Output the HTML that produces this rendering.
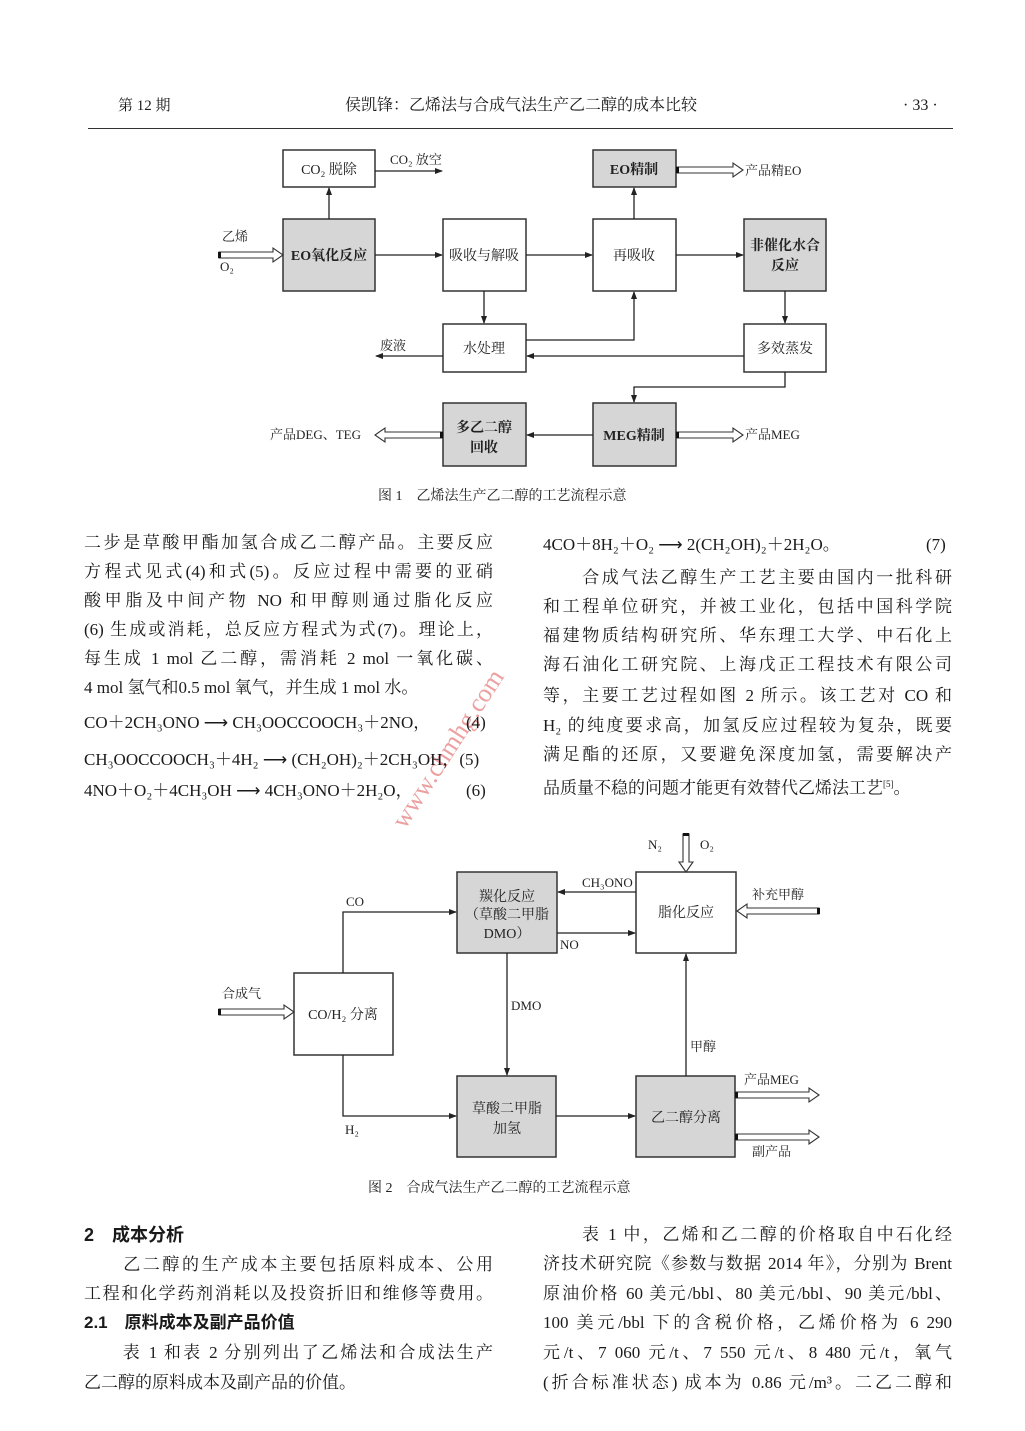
<!DOCTYPE html>
<html><head><meta charset="utf-8">
<style>
body{margin:0;background:#fff;}
#p{position:relative;width:1025px;height:1431px;overflow:hidden;background:#fff;color:#1a1a1a;font-family:"Liberation Serif","Noto Serif CJK SC",serif;}
.l{position:absolute;font-size:17px;line-height:20px;white-space:nowrap;}
.j{position:absolute;font-size:17px;line-height:20px;text-align:justify;text-align-last:justify;white-space:nowrap;}
.b{font-family:"Liberation Sans","Noto Sans CJK SC",sans-serif;font-weight:bold;}
svg text{font-family:"Liberation Serif","Noto Serif CJK SC",serif;fill:#222;}
</style></head><body><div id="p">
<div class="l" style="left:118px;top:96px;font-size:15px;">第 12 期</div>
<div class="l" style="left:345px;top:96px;font-size:16px;">侯凯锋：乙烯法与合成气法生产乙二醇的成本比较</div>
<div class="l" style="left:903px;top:96px;font-size:16px;">· 33 ·</div>
<div style="position:absolute;left:88px;top:128px;width:865px;height:1px;background:#333;"></div>

<svg width="1025" height="1431" style="position:absolute;left:0;top:0" xmlns="http://www.w3.org/2000/svg">
<defs><marker id="a" markerWidth="8" markerHeight="8" refX="7" refY="4" orient="auto" markerUnits="userSpaceOnUse"><path d="M0,1 L8,4 L0,7 Z" fill="#222"/></marker></defs>
<g stroke="#333" stroke-width="1.5">
<rect x="283" y="150" width="92" height="37" fill="#fff"/>
<rect x="593" y="150" width="83" height="37" fill="#d6d6d6"/>
<rect x="283" y="219" width="92" height="72" fill="#d6d6d6"/>
<rect x="443" y="219" width="83" height="72" fill="#fff"/>
<rect x="593" y="219" width="83" height="72" fill="#fff"/>
<rect x="744" y="219" width="82" height="72" fill="#d6d6d6"/>
<rect x="443" y="324" width="83" height="48" fill="#fff"/>
<rect x="744" y="324" width="82" height="48" fill="#fff"/>
<rect x="443" y="403" width="83" height="63" fill="#d6d6d6"/>
<rect x="593" y="403" width="83" height="63" fill="#d6d6d6"/>
<rect x="457" y="872" width="100" height="81" fill="#d6d6d6"/>
<rect x="636" y="872" width="100" height="81" fill="#fff"/>
<rect x="294" y="973" width="99" height="82" fill="#fff"/>
<rect x="457" y="1076" width="99" height="81" fill="#d6d6d6"/>
<rect x="636" y="1076" width="99" height="81" fill="#d6d6d6"/>
</g>
<g stroke="#222" stroke-width="1.3" fill="none" marker-end="url(#a)">
<line x1="375" y1="171" x2="442" y2="171"/>
<line x1="329" y1="219" x2="329" y2="188"/>
<line x1="375" y1="255" x2="442" y2="255"/>
<line x1="526" y1="255" x2="592" y2="255"/>
<line x1="676" y1="255" x2="743" y2="255"/>
<line x1="634" y1="219" x2="634" y2="188"/>
<line x1="484" y1="291" x2="484" y2="323"/>
<polyline points="526,340 634,340 634,292"/>
<line x1="744" y1="356" x2="527" y2="356"/>
<line x1="443" y1="356" x2="376" y2="356"/>
<line x1="785" y1="291" x2="785" y2="323"/>
<polyline points="785,372 785,387 634,387 634,402"/>
<line x1="593" y1="435" x2="527" y2="435"/>
<polyline points="343,973 343,912 456,912"/>
<polyline points="343,1055 343,1116 456,1116"/>
<line x1="636" y1="892" x2="558" y2="892"/>
<line x1="557" y1="933" x2="635" y2="933"/>
<line x1="507" y1="953" x2="507" y2="1075"/>
<line x1="556" y1="1116" x2="635" y2="1116"/>
<line x1="686" y1="1076" x2="686" y2="954"/>
</g>
<g stroke="#333" stroke-width="1.1" fill="#fff">
<polygon points="219,252 273,252 273,248 283,255 273,262 273,258 219,258"/>
<polygon points="677,167 733,167 733,163 743,170 733,177 733,173 677,173"/>
<polygon points="677,432 733,432 733,428 743,435 733,442 733,438 677,438"/>
<polygon points="442,432 385,432 385,428 375,435 385,442 385,438 442,438"/>
<polygon points="219,1009 284,1009 284,1005 294,1012 284,1019 284,1015 219,1015"/>
<polygon points="819,908 747,908 747,904 737,911 747,918 747,914 819,914"/>
<polygon points="736,1092 809,1092 809,1088 819,1095 809,1102 809,1098 736,1098"/>
<polygon points="736,1134 809,1134 809,1130 819,1137 809,1144 809,1140 736,1140"/>
<polygon points="683,834 689,834 689,862 693,862 686,872 679,862 683,862"/>
</g>
<g fill="#111">
<rect x="218" y="252" width="3" height="6"/><rect x="676" y="167" width="3" height="6"/>
<rect x="676" y="432" width="3" height="6"/><rect x="440" y="432" width="3" height="6"/>
<rect x="218" y="1009" width="3" height="6"/><rect x="817" y="908" width="3" height="6"/>
<rect x="735" y="1092" width="3" height="6"/><rect x="735" y="1134" width="3" height="6"/>
<rect x="683" y="833" width="6" height="3"/>
</g>
<g font-size="14" text-anchor="middle">
<text x="329" y="174">CO₂ 脱除</text>
<text x="634" y="174" font-weight="bold">EO精制</text>
<text x="329" y="260" font-weight="bold">EO氧化反应</text>
<text x="484" y="260">吸收与解吸</text>
<text x="634" y="260">再吸收</text>
<text x="785" y="250" font-weight="bold">非催化水合</text>
<text x="785" y="270" font-weight="bold">反应</text>
<text x="484" y="353">水处理</text>
<text x="785" y="353">多效蒸发</text>
<text x="484" y="432" font-weight="bold">多乙二醇</text>
<text x="484" y="452" font-weight="bold">回收</text>
<text x="634" y="440" font-weight="bold">MEG精制</text>
<text x="507" y="901">羰化反应</text>
<text x="507" y="919">（草酸二甲脂</text>
<text x="507" y="938">DMO）</text>
<text x="686" y="917">脂化反应</text>
<text x="343" y="1019">CO/H₂ 分离</text>
<text x="507" y="1113">草酸二甲脂</text>
<text x="507" y="1133">加氢</text>
<text x="686" y="1122">乙二醇分离</text>
</g>
<g font-size="13">
<text x="390" y="164">CO₂ 放空</text>
<text x="745" y="175">产品精EO</text>
<text x="222" y="241">乙烯</text>
<text x="220" y="271">O₂</text>
<text x="380" y="350">废液</text>
<text x="270" y="439">产品DEG、TEG</text>
<text x="745" y="439">产品MEG</text>
<text x="346" y="906">CO</text>
<text x="582" y="887">CH₃ONO</text>
<text x="560" y="949">NO</text>
<text x="511" y="1010">DMO</text>
<text x="222" y="998">合成气</text>
<text x="345" y="1134">H₂</text>
<text x="690" y="1051">甲醇</text>
<text x="648" y="849">N₂</text>
<text x="700" y="849">O₂</text>
<text x="752" y="899">补充甲醇</text>
<text x="744" y="1084">产品MEG</text>
<text x="752" y="1156">副产品</text>
</g>
<g font-size="14">
<text x="378" y="500">图 1　乙烯法生产乙二醇的工艺流程示意</text>
<text x="368" y="1192">图 2　合成气法生产乙二醇的工艺流程示意</text>
</g>
<text x="405" y="830" font-size="26" style="fill:#e06060;fill-opacity:0.6" transform="rotate(-57 405 830)">www.chmhg.com</text>
</svg>

<div class="j" style="left:84px;top:533px;width:409px;">二步是草酸甲酯加氢合成乙二醇产品。主要反应</div>
<div class="j" style="left:84px;top:562px;width:409px;">方程式见式(4)和式(5)。反应过程中需要的亚硝</div>
<div class="j" style="left:84px;top:591px;width:409px;">酸甲脂及中间产物 NO 和甲醇则通过脂化反应</div>
<div class="j" style="left:84px;top:620px;width:409px;">(6) 生成或消耗，总反应方程式为式(7)。理论上，</div>
<div class="j" style="left:84px;top:649px;width:409px;">每生成 1 mol 乙二醇，需消耗 2 mol 一氧化碳、</div>
<div class="l" style="left:84px;top:678px;">4 mol 氢气和0.5 mol 氧气，并生成 1 mol 水。</div>
<div class="l" style="left:84px;top:713px;">CO＋2CH₃ONO ⟶ CH₃OOCCOOCH₃＋2NO，</div><div class="l" style="left:466px;top:713px;">(4)</div>
<div class="l" style="left:84px;top:750px;">CH₃OOCCOOCH₃＋4H₂ ⟶ (CH₂OH)₂＋2CH₃OH，(5)</div>
<div class="l" style="left:84px;top:781px;">4NO＋O₂＋4CH₃OH ⟶ 4CH₃ONO＋2H₂O，</div><div class="l" style="left:466px;top:781px;">(6)</div>

<div class="l" style="left:543px;top:535px;">4CO＋8H₂＋O₂ ⟶ 2(CH₂OH)₂＋2H₂O。</div><div class="l" style="left:926px;top:535px;">(7)</div>
<div class="j" style="left:543px;top:568px;width:409px;">　　合成气法乙醇生产工艺主要由国内一批科研</div>
<div class="j" style="left:543px;top:597px;width:409px;">和工程单位研究，并被工业化，包括中国科学院</div>
<div class="j" style="left:543px;top:626px;width:409px;">福建物质结构研究所、华东理工大学、中石化上</div>
<div class="j" style="left:543px;top:655px;width:409px;">海石油化工研究院、上海戊正工程技术有限公司</div>
<div class="j" style="left:543px;top:686px;width:409px;">等，主要工艺过程如图 2 所示。该工艺对 CO 和</div>
<div class="j" style="left:543px;top:716px;width:409px;">H₂ 的纯度要求高，加氢反应过程较为复杂，既要</div>
<div class="j" style="left:543px;top:745px;width:409px;">满足酯的还原，又要避免深度加氢，需要解决产</div>
<div class="l" style="left:543px;top:774px;">品质量不稳的问题才能更有效替代乙烯法工艺<sup style="font-size:9px">[5]</sup>。</div>

<div class="l b" style="left:84px;top:1225px;font-size:18px;">2　成本分析</div>
<div class="j" style="left:84px;top:1255px;width:409px;">　　乙二醇的生产成本主要包括原料成本、公用</div>
<div class="j" style="left:84px;top:1284px;width:409px;">工程和化学药剂消耗以及投资折旧和维修等费用。</div>
<div class="l b" style="left:84px;top:1313px;font-size:17px;">2.1　原料成本及副产品价值</div>
<div class="j" style="left:84px;top:1343px;width:409px;">　　表 1 和表 2 分别列出了乙烯法和合成法生产</div>
<div class="l" style="left:84px;top:1373px;">乙二醇的原料成本及副产品的价值。</div>

<div class="j" style="left:543px;top:1225px;width:409px;">　　表 1 中，乙烯和乙二醇的价格取自中石化经</div>
<div class="j" style="left:543px;top:1254px;width:409px;">济技术研究院《参数与数据 2014 年》，分别为 Brent</div>
<div class="j" style="left:543px;top:1284px;width:409px;">原油价格 60 美元/bbl、80 美元/bbl、90 美元/bbl、</div>
<div class="j" style="left:543px;top:1313px;width:409px;">100 美元/bbl 下的含税价格，乙烯价格为 6 290</div>
<div class="j" style="left:543px;top:1343px;width:409px;">元/t、7 060 元/t、7 550 元/t、8 480 元/t，氧气</div>
<div class="j" style="left:543px;top:1373px;width:409px;">(折合标准状态) 成本为 0.86 元/m³。二乙二醇和</div>
</div></body></html>
